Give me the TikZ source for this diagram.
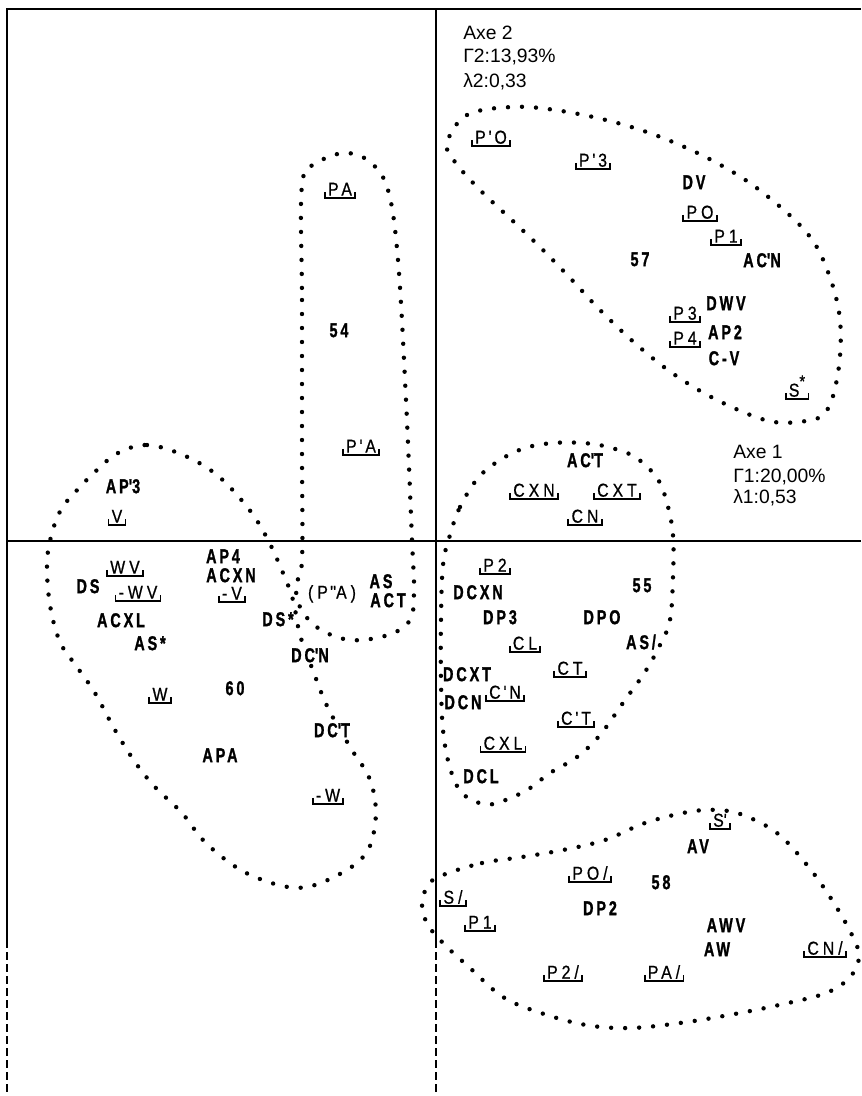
\documentclass[tikz,border=0pt]{standalone}
\usepackage{fontspec}
\setmainfont{Liberation Sans}
\newfontfamily\labfont[LetterSpace=25,FakeBold=0.8]{Liberation Sans}
\newfontfamily\boldfont[LetterSpace=20,FakeBold=1.5]{Liberation Sans Bold}
\newcommand\bt[1]{\scalebox{0.72}[1]{\boldfont #1}}
\newcommand\rt[1]{\scalebox{0.85}[1]{#1}}
\newcommand\qs{\textquotesingle}
\newcommand\ap{\hspace{2.5pt}\textquotesingle\hspace{2.5pt}}
\tikzset{
  dotline/.style={line width=3.3pt, line cap=round, dash pattern=on 0pt off 10.5pt},
  framel/.style={line width=1.4pt},
  axisl/.style={line width=1.1pt},
  lowl/.style={line width=0.8pt, dash pattern=on 6pt off 3pt},
  lab/.style={font=\labfont\fontsize{14}{16}\selectfont, text height=10pt, text depth=0pt, inner xsep=2.2pt, inner ysep=1.5pt},
  blab/.style={font=\fontsize{15}{17}\selectfont, text height=10.7pt, text depth=0pt, inner sep=0.5pt},
  brk/.style={line width=1.3pt},
  axe/.style={font=\fontsize{14.5}{16}\selectfont, anchor=west, inner sep=0pt},
}
\newcommand\blabel[4]{\node[lab] (#1) at (#2,#3) {\rt{#4}};
  \draw[brk] ([yshift=4.5pt]#1.south west) -- (#1.south west) -- (#1.south east) -- ([yshift=4.5pt]#1.south east);}
\newcommand\bnode[4]{\node[blab] (#1) at (#2,#3) {\bt{#4}};}
\newcommand\wnode[4]{\node[blab, fill=white] (#1) at (#2,#3) {\bt{#4}};}
\begin{document}
\begin{tikzpicture}[x=0.75pt,y=-0.75pt]
\useasboundingbox (0,0) rectangle (861,1096);
% frame and axes
\coordinate (tl) at (7,9);
\coordinate (tr) at (861,9);
\coordinate (lb) at (7,940);
\coordinate (lbb) at (7,1096);
\coordinate (hl) at (7,541);
\coordinate (hr) at (861,541);
\coordinate (vt) at (436,9);
\coordinate (vb) at (436,940);
\coordinate (vbb) at (436,1096);
\draw[framel] (lb) -- (tl) -- (tr);
\draw[lowl] (lb) -- (lbb);
\draw[axisl] (hl) -- (hr);
\draw[axisl] (vt) -- (vb);
\draw[lowl] (vb) -- (vbb);
% dotted clusters
\draw[dotline] plot[smooth cycle, tension=0.6] coordinates {(447,143) (467,115) (512,107) (555,110) (610,121) (663,138) (717,163) (762,192) (807,233) (828,272) (840,320) (838,373) (825,413) (797,422) (765,420) (717,400) (675,375) (637,345) (600,310) (572,280) (543,250) (515,223) (480,190) (455,162)};
\draw[dotline] plot[smooth cycle, tension=0.6] coordinates {(302,185) (302,300) (302,450) (302,560) (296,585) (300,607) (318,628) (350,640) (388,635) (410,620) (414,590) (412,540) (406,400) (398,260) (388,190) (370,162) (345,153) (317,163)};
\draw[dotline] plot[smooth cycle, tension=0.6] coordinates {(118,453) (147,445) (183,455) (217,475) (248,508) (267,538) (283,573) (293,600) (300,635) (312,668) (328,708) (352,750) (368,775) (375,800) (375,825) (368,850) (350,868) (315,885) (288,887) (255,877) (230,863) (203,840) (182,813) (155,787) (135,762) (115,730) (95,693) (77,667) (60,642) (50,605) (47,563) (52,533) (62,508) (80,487) (97,470)};
\draw[dotline] plot[smooth cycle, tension=0.6] coordinates {(450,535) (460,507) (478,478) (500,460) (525,448) (553,443) (583,443) (608,447) (635,457) (657,478) (667,503) (673,535) (673,577) (670,620) (660,645) (645,672) (625,700) (600,735) (577,757) (550,773) (527,790) (500,802) (483,804) (462,793) (450,768) (443,730) (441,680) (441,620) (443,565)};
\draw[dotline] plot[smooth cycle, tension=0.6] coordinates {(443,875) (482,863) (522,857) (563,850) (605,840) (645,823) (688,812) (718,810) (743,815) (777,833) (807,865) (832,900) (852,935) (859,957) (850,977) (826,993) (779,1005) (729,1015) (680,1023) (630,1028) (586,1025) (541,1013) (503,997) (470,968) (445,945) (428,925) (422,905) (428,885)};
% axis annotations
\node[axe] (axe2) at (463,33) {Axe 2};
\node[axe] (gam2) at (463,57) {Γ2:13,93\%};
\node[axe] (lam2) at (463,82) {λ2:0,33};
\node[axe] (axe1) at (733,452) {Axe 1};
\node[axe] (gam1) at (733,477) {Γ1:20,00\%};
\node[axe] (lam1) at (733,498) {λ1:0,53};
% bracketed labels
\blabel{PpO}{491}{137}{P\ap O}
\blabel{Pp3}{593}{160}{P\ap 3}
\blabel{POa}{700}{212}{PO}
\blabel{P1a}{726}{236}{P1}
\blabel{P3}{685}{313}{P3}
\blabel{P4}{685}{338}{P4}
\blabel{Sst}{797}{390}{S\raisebox{0.5em}{\fontsize{13}{13}\selectfont *}}
\blabel{PA}{340}{189}{PA}
\blabel{PpA}{361}{446}{P\ap A}
\blabel{V}{117}{516}{V}
\blabel{WV}{125}{567}{WV}
\blabel{mWV}{138}{592}{-WV}
\blabel{mV}{232}{593}{-V}
\blabel{W}{160}{694}{W}
\blabel{mW}{328}{795}{-W}
\blabel{CXN}{534}{490}{CXN}
\blabel{CXT}{617}{490}{CXT}
\blabel{CN}{585}{516}{CN}
\blabel{P2}{495}{565}{P2}
\blabel{CL}{525}{643}{CL}
\blabel{CT}{570}{668}{CT}
\blabel{CpN}{505}{692}{C\ap N}
\blabel{CpT}{576}{718}{C\ap T}
\blabel{CXL}{503}{743}{CXL}
\blabel{Sp}{720}{820}{S\qs}
\blabel{POs}{590}{873}{PO/}
\blabel{Ss}{453}{897}{S/}
\blabel{P1b}{480}{922}{P1}
\blabel{CNs}{825}{948}{CN/}
\blabel{P2s}{563}{972}{P2/}
\blabel{PAs}{664}{972}{PA/}
\node[lab] (PppA) at (332,592) {\rt{(P\hspace{2pt}\qs\qs A)}};
% bold labels
\bnode{DV}{694}{182}{DV}
\bnode{ACpN}{762}{260}{AC\qs N}
\bnode{n57}{640}{259}{57}
\bnode{DWV}{726}{303}{DWV}
\bnode{AP2}{725}{332}{AP2}
\bnode{CmV}{724}{358}{C-V}
\bnode{n54}{339}{330}{54}
\bnode{APp3}{123}{486}{AP\qs 3}
\bnode{DS}{88}{586}{DS}
\bnode{ACXL}{121}{620}{ACXL}
\bnode{ASst}{150}{643}{AS*}
\bnode{AP4}{223}{556}{AP4}
\bnode{ACXN}{231}{575}{ACXN}
\bnode{AS}{381}{581}{AS}
\bnode{ACT}{388}{600}{ACT}
\bnode{DSst}{278}{619}{DS*}
\wnode{DCpN}{310}{655}{DC\qs N}
\bnode{n60}{235}{688}{60}
\wnode{DCpT}{332}{730}{DC\qs T}
\bnode{APA}{220}{755}{APA}
\bnode{ACpT}{585}{460}{AC\qs T}
\bnode{DCXN}{478}{592}{DCXN}
\bnode{n55}{642}{585}{55}
\bnode{DP3}{500}{617}{DP3}
\bnode{DPO}{602}{617}{DPO}
\bnode{ASs}{641}{642}{AS/}
\bnode{DCXT}{467}{674}{DCXT}
\bnode{DCN}{463}{702}{DCN}
\bnode{DCL}{481}{776}{DCL}
\bnode{AV}{698}{846}{AV}
\bnode{n58}{661}{882}{58}
\bnode{DP2}{600}{908}{DP2}
\bnode{AWV}{726}{925}{AWV}
\bnode{AW}{717}{949}{AW}
\end{tikzpicture}
\end{document}
